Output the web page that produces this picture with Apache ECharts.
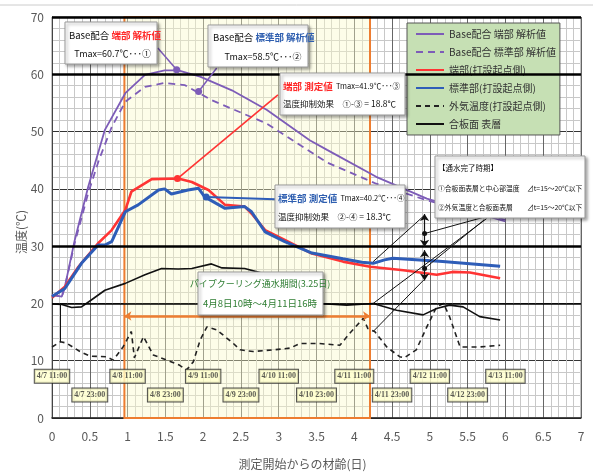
<!DOCTYPE html>
<html><head><meta charset="utf-8">
<script src="https://cdn.jsdelivr.net/npm/echarts@6/dist/echarts.min.js"></script>
<style>html,body{margin:0;padding:0;background:#fff}#c{width:593px;height:476px}</style>
</head><body><div id="c"></div>
<script>
// ---- data (x = 材齢[日], y = 温度[℃]) ----
const baseEdge = [[0,21.5],[0.13,21.2],[0.17,22.9],[0.3,31],[0.48,40.4],[0.7,50.3],[0.97,56.7],[1.23,59.9],[1.49,60.7],[1.67,60.7],[1.96,59.6],[2.38,57.2],[2.84,53.8],[3.41,48.5],[3.64,46.8],[4.29,42.1],[4.96,38.3],[6.0,34.3]];
const baseStd = [[0,21.5],[0.13,21.2],[0.17,22.9],[0.3,30.5],[0.48,39.3],[0.62,45],[0.79,50.8],[0.97,55.2],[1.23,57.8],[1.49,58.5],[1.76,58.1],[2.11,55.5],[2.84,51.4],[3.64,44.6],[4.29,40.9],[4.96,38.0],[6.0,34.6]];
const edgeMeas = [[0,21],[0.17,22.9],[0.35,26.4],[0.61,30.5],[0.79,32.8],[0.97,36.3],[1.05,39.5],[1.32,41.7],[1.67,41.8],[1.85,41.2],[2.07,39.8],[2.29,37.2],[2.55,36.9],[2.64,35.7],[2.82,32.8],[3.08,31.1],[3.44,28.7],[3.85,27.3],[4.21,26.4],[4.65,25.8],[5.09,25.0],[5.3,25.5],[5.53,25.4],[5.93,24.4]];
const stdMeas = [[0,21.2],[0.17,22.6],[0.39,27],[0.61,30.2],[0.7,30.2],[0.79,30.8],[0.97,36],[1.14,37.2],[1.41,39.8],[1.49,40],[1.58,39.1],[1.8,39.8],[1.94,40.1],[2.02,38.6],[2.29,36.6],[2.55,36.9],[2.64,36],[2.82,32.5],[3.08,30.8],[3.44,28.8],[3.85,27.8],[4.1,27.2],[4.25,27.0],[4.4,27.6],[4.51,27.9],[5.17,27.3],[5.93,26.5]];
const outsideAir = [[0,12.4],[0.11,13.3],[0.19,13.1],[0.37,11.6],[0.5,10.8],[0.72,10.7],[0.81,10.1],[0.94,12.4],[1.05,15.1],[1.09,10.5],[1.21,14.2],[1.34,11],[1.52,10.1],[1.69,9.2],[1.78,8.4],[1.87,9.8],[1.96,13.6],[2.05,15.9],[2.18,15.4],[2.4,13],[2.49,11.9],[2.66,11.6],[2.93,11.9],[3.15,12.2],[3.28,13],[3.54,13],[3.81,12.7],[3.94,14.8],[4.12,17.4],[4.18,15.6],[4.27,15.1],[4.43,12.4],[4.6,10.7],[4.66,10.5],[4.82,11.9],[4.96,15.9],[5.09,19.4],[5.18,20],[5.26,17.7],[5.4,12.4],[5.66,12.4],[5.93,12.7]];
const plywoodSurf = [[0,19.9],[0.13,19.8],[0.26,19.3],[0.39,19.4],[0.52,20.6],[0.7,22.3],[0.97,23.5],[1.23,25],[1.45,26.1],[1.67,26],[1.85,26.1],[2.11,26.9],[2.25,26.2],[2.55,26.1],[2.8,25.2],[3.0,23],[3.2,21.2],[3.54,20],[3.9,19.7],[4.25,20],[4.56,18.8],[4.91,18],[5.09,19.1],[5.26,19.7],[5.44,19.4],[5.66,17.7],[5.93,17.1]];

const seriesNames = ['Base配合 端部 解析値','Base配合 標準部 解析値','端部(打設起点側)','標準部(打設起点側)','外気温度(打設起点側)','合板面 表層'];

// peak markers and their leader-line ends
const peakPoints = [[1.65,60.8],[1.94,57.0],[1.66,41.8],[2.04,38.6]];
const leaderEnds = [[1.40,64.6],[2.18,61.1],[2.99,56.4],[2.95,38.2]];

// cooling period (4/8 10:00 – 4/11 16:00)
const coolStart = 0.958, coolEnd = 4.208, coolArrowY = 17.8;
const heavyLinesY = [20, 30, 60, 70];

// date tick boxes
const dateLabelsA = ['4/7 11:00','4/8 11:00','4/9 11:00','4/10 11:00','4/11 11:00','4/12 11:00','4/13 11:00'];
const dateXA = [0,1,2,3,4,5,6];
const dateLabelsB = ['4/7 23:00','4/8 23:00','4/9 23:00','4/10 23:00','4/11 23:00','4/12 23:00'];
const dateXB = [0.5,1.5,2.5,3.5,4.5,5.5];
const dateYA = 7.3, dateYB = 4.0;

// annotation segments near 通水完了時期
const noteSegs = [[[0.11,19.9],[0.11,13.3]],[[4.25,27.3],[4.93,35.4]],[[4.25,20.0],[5.75,34.8]],[[4.93,32.2],[5.7,35.0]],[[4.25,15.1],[4.92,24.1]],[[4.93,26.1],[5.72,34.6]]];
const arrowSegs = [[[4.93,32.2],[4.93,35.6]],[[4.93,32.2],[4.93,29.9]],[[4.93,26.1],[4.93,29.3]],[[4.93,26.1],[4.93,24.0]]];
const noteDots = [[4.93,32.2],[4.93,26.1]];

const PURPLE = '#7d5cb8', RED = '#ff3434', BLUE = '#2e5db8', JP = 'Noto Sans CJK JP';

function peak(i, color, w) {
  return {
    markPoint: {symbol:'circle', symbolSize:7, itemStyle:{color, opacity:1}, label:{show:false}, silent:true,
      data:[{coord: peakPoints[i]}]},
    markLine: {symbol:['none','none'], silent:true, label:{show:false}, lineStyle:{color, width:w, type:'solid'},
      data:[[{coord: peakPoints[i]},{coord: leaderEnds[i]}]]}
  };
}

const chart = echarts.init(document.getElementById('c'));
const series = [
  {type:'line', z:1, data:[], silent:true,
    markArea:{silent:true, itemStyle:{color:'rgba(250,250,200,0.4)', borderColor:'#ed7d31', borderWidth:2},
      data:[[{coord:[coolStart,0]},{coord:[coolEnd,70]}]]},
    markLine:{symbol:['none','none'], silent:true, label:{show:false},
      data: heavyLinesY.map(v=>({yAxis:v, lineStyle:{color:'#000', width: v===20?1.6:2.6, type:'solid'}}))}
  },
  Object.assign({name:seriesNames[0], type:'line', data:baseEdge, showSymbol:false, symbol:'none', z:3,
    lineStyle:{color:PURPLE, width:1.8}, itemStyle:{color:PURPLE}}, peak(0, PURPLE, 1.5)),
  Object.assign({name:seriesNames[1], type:'line', data:baseStd, showSymbol:false, symbol:'none', z:3,
    lineStyle:{color:PURPLE, width:1.8, type:[7,5]}, itemStyle:{color:PURPLE}}, peak(1, PURPLE, 1.5)),
  Object.assign({name:seriesNames[2], type:'line', data:edgeMeas, showSymbol:false, symbol:'none', z:4,
    lineStyle:{color:RED, width:2.6}, itemStyle:{color:RED}}, peak(2, RED, 1.6)),
  Object.assign({name:seriesNames[3], type:'line', data:stdMeas, showSymbol:false, symbol:'none', z:4,
    lineStyle:{color:BLUE, width:3}, itemStyle:{color:BLUE}}, peak(3, BLUE, 2)),
  {name:seriesNames[4], type:'line', data:outsideAir, showSymbol:false, symbol:'none', z:3,
    lineStyle:{color:'#222', width:1.6, type:[5,4]}, itemStyle:{color:'#222'}},
  {name:seriesNames[5], type:'line', data:plywoodSurf, showSymbol:false, symbol:'none', z:3,
    lineStyle:{color:'#111', width:1.6}, itemStyle:{color:'#111'}},
  {type:'line', z:6, data:[], silent:true,
    markLine:{silent:true, label:{show:false}, symbolSize:7,
      data:[
        [{coord:[coolStart,coolArrowY], symbol:'arrow'},{coord:[coolEnd,coolArrowY], symbol:'arrow', lineStyle:{color:'#ed7d31', width:2.5, type:'solid'}}],
        ...noteSegs.map(s=>[{coord:s[0], symbol:'none'},{coord:s[1], symbol:'none', lineStyle:{color:'#111', width:1, type:'solid'}}]),
        ...arrowSegs.map(s=>[{coord:s[0], symbol:'none'},{coord:s[1], symbol:'arrow', lineStyle:{color:'#111', width:1.2, type:'solid'}}])
      ]},
    markPoint:{symbol:'circle', symbolSize:5, itemStyle:{color:'#111'}, label:{show:false}, silent:true,
      data: noteDots.map(d=>({coord:d}))}
  },
  {type:'scatter', z:7, silent:true, symbolSize:1, itemStyle:{color:'rgba(0,0,0,0)'},
    data: dateLabelsA.map((t,i)=>({name:t, value:[dateXA[i], dateYA]})).concat(dateLabelsB.map((t,i)=>({name:t, value:[dateXB[i], dateYB]}))),
    label:{show:true, position:'inside', formatter:'{b}', fontSize:8, fontFamily:'Liberation Serif', fontWeight:'bold', color:'#333',
      backgroundColor:'#ffffcc', borderColor:'#222', borderWidth:1, padding:[3,2,2,2]},
    labelLayout:{hideOverlap:false}}
];

function tbox(x,y,w,h,texts){
  return {type:'group', x, y, z:100, children:[
    {type:'rect', z:100, shape:{x:0,y:0,width:w,height:h}, style:{fill:'#fff', stroke:'#999', lineWidth:1, shadowBlur:3, shadowOffsetX:2, shadowOffsetY:2, shadowColor:'rgba(0,0,0,0.35)'}},
    ...texts.map(t=>Object.assign({type:'text', z:101}, t))
  ]};
}
const baseFont = {fontFamily:JP, fontSize:9, fill:'#111'};
const rich = {
  k:{fontFamily:JP, fontSize:9.5, fill:'#111'},
  r:{fontFamily:JP, fontSize:9.5, fill:'#ff2a2a', fontWeight:'bold'},
  b:{fontFamily:JP, fontSize:9.5, fill:'#2f5fb0', fontWeight:'bold'},
  s:{fontFamily:JP, fontSize:7.5, fill:'#111'}
};

chart.setOption({
  animation:false,
  backgroundColor:'#fff',
  grid:{left:52, right:12, top:17, bottom:58, show:true, borderColor:'#888', borderWidth:1},
  legend:{data:seriesNames, orient:'vertical', left:407, top:23, backgroundColor:'#c6e0b4', borderColor:'#555', borderWidth:1,
    padding:[6,4,6,8], itemGap:8, itemWidth:28, itemHeight:12, selectedMode:false,
    itemStyle:{opacity:0},
    textStyle:{fontFamily:JP, fontSize:10, color:'#333'}},
  xAxis:{type:'value', min:0, max:7, interval:0.5,
    name:'測定開始からの材齢(日)', nameLocation:'middle', nameGap:40,
    nameTextStyle:{fontFamily:JP, fontSize:12, color:'#595959', padding:[0,28,0,0]},
    axisLine:{show:true, lineStyle:{color:'#222', width:1.5}}, axisTick:{show:false},
    axisLabel:{fontFamily:JP, fontSize:12, color:'#595959', margin:12},
    splitLine:{show:true, lineStyle:{color:'#666', width:1}},
    minorTick:{show:false, splitNumber:5}, minorSplitLine:{show:true, lineStyle:{color:'#c8c8c8', width:1}}},
  yAxis:{type:'value', min:0, max:70, interval:10,
    axisLine:{show:true, lineStyle:{color:'#444'}}, axisTick:{show:false},
    axisLabel:{fontFamily:JP, fontSize:12, color:'#595959', margin:8},
    splitLine:{show:true, lineStyle:{color:'#333', width:1.2}},
    minorTick:{show:false, splitNumber:5}, minorSplitLine:{show:true, lineStyle:{color:'#c8c8c8', width:1}}},
  series,
  graphic:[
    {type:'line', z:100, shape:{x1:0,y1:5,x2:593,y2:5}, style:{stroke:'#ccc', lineWidth:1}},
    {type:'text', z:100, x:21, y:232, rotation:Math.PI/2, style:{text:'温度(℃)', align:'center', verticalAlign:'middle', fontFamily:JP, fontSize:12, fill:'#595959'}},
    tbox(65,22,92,42,[
      {x:4, y:13, style:{text:'{k|Base配合 }{r|端部 解析値}', rich, verticalAlign:'middle'}},
      {x:86, y:32, style:Object.assign({text:'Tmax=60.7℃･･･①', align:'right', verticalAlign:'middle'}, baseFont)}
    ]),
    tbox(208,25,100,42,[
      {x:5, y:12, style:{text:'{k|Base配合 }{b|標準部 解析値}', rich, verticalAlign:'middle'}},
      {x:55, y:32, style:Object.assign({text:'Tmax=58.5℃･･･②', align:'center', verticalAlign:'middle'}, baseFont)}
    ]),
    tbox(280,73,125,42,[
      {x:3, y:13, style:{text:'{r|端部 測定値} {s|Tmax=41.9℃･･･③}', rich, verticalAlign:'middle'}},
      {x:3, y:31, style:Object.assign({text:'温度抑制効果　①-③ = 18.8℃', verticalAlign:'middle'}, baseFont, {fontSize:8.5})}
    ]),
    tbox(275,185,130,43,[
      {x:3, y:13, style:{text:'{b|標準部 測定値} {s|Tmax=40.2℃･･･④}', rich, verticalAlign:'middle'}},
      {x:3, y:32, style:Object.assign({text:'温度抑制効果　②-④ = 18.3℃', verticalAlign:'middle'}, baseFont, {fontSize:8.5})}
    ]),
    tbox(198,272,125,43,[
      {x:62, y:12, style:{text:'パイプクーリング通水期間(3.25日)', align:'center', verticalAlign:'middle', fontFamily:JP, fontSize:9, fill:'#2e7d32'}},
      {x:62, y:31, style:{text:'4月8日10時～4月11日16時', align:'center', verticalAlign:'middle', fontFamily:JP, fontSize:9.5, fill:'#2e7d32'}}
    ]),
    tbox(435,156,150,62,[
      {x:3, y:12, style:{text:'【通水完了時期】', verticalAlign:'middle', fontFamily:JP, fontSize:7.5, fill:'#111'}},
      {x:3, y:32, style:{text:'①合板面表層と中心部温度', verticalAlign:'middle', fontFamily:JP, fontSize:6.8, fill:'#111'}},
      {x:92, y:32, style:{text:'⊿t=15～20℃以下', verticalAlign:'middle', fontFamily:JP, fontSize:6.8, fill:'#111'}},
      {x:3, y:51, style:{text:'②外気温度と合板面表層', verticalAlign:'middle', fontFamily:JP, fontSize:6.8, fill:'#111'}},
      {x:92, y:51, style:{text:'⊿t=15～20℃以下', verticalAlign:'middle', fontFamily:JP, fontSize:6.8, fill:'#111'}}
    ])
  ]
});
</script></body></html>
